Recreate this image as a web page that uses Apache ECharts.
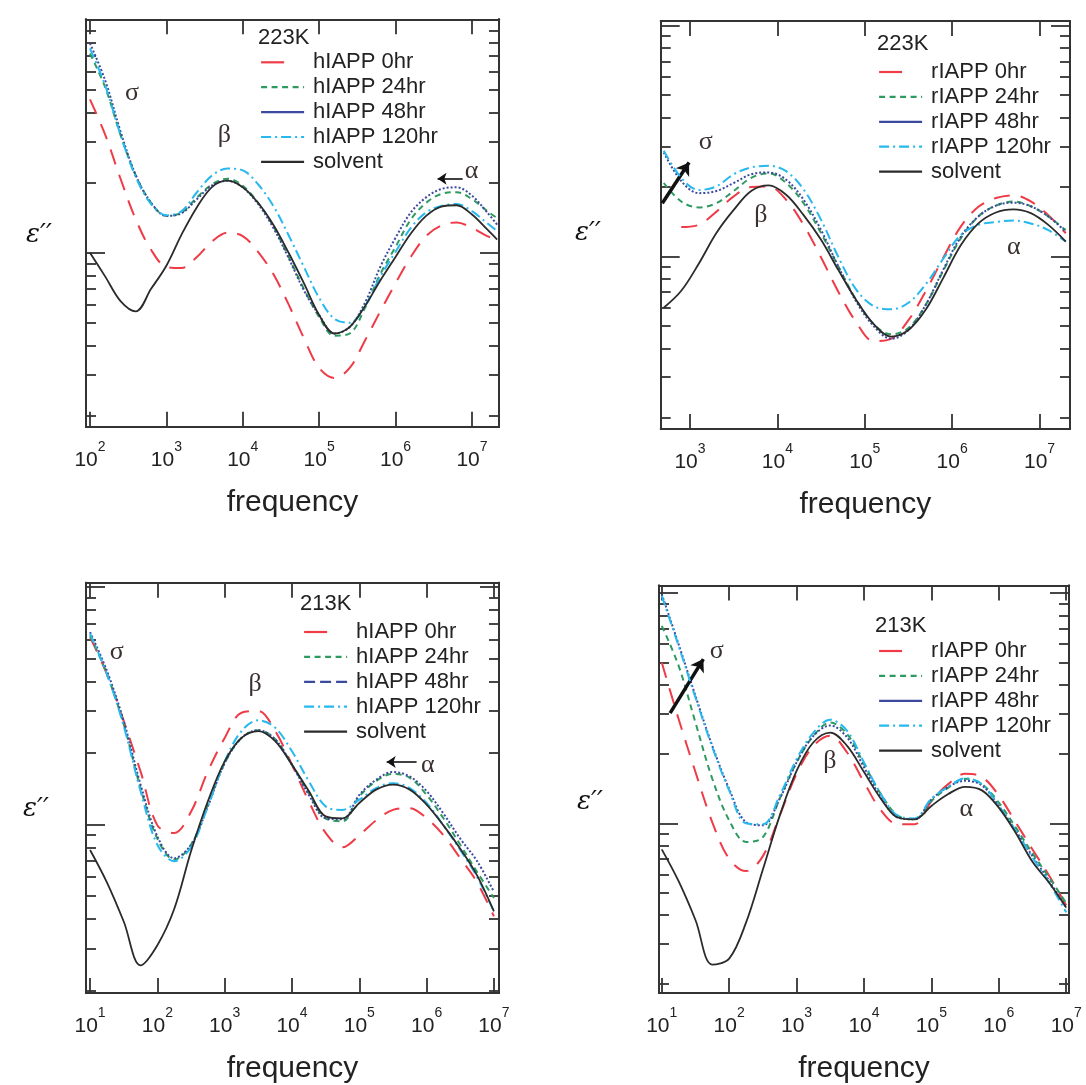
<!DOCTYPE html>
<html><head><meta charset="utf-8">
<script src="https://cdn.jsdelivr.net/npm/echarts@6/dist/echarts.min.js"></script>
<style>html,body{margin:0;padding:0;background:#fff}#c{width:1086px;height:1085px}</style>
</head><body><div id="c"></div>
<script>
// ---------- DATA ----------
// Frequencies (Hz)
const freq1 = [1e2,1.585e2,2.512e2,3.981e2,6.31e2,1e3,1.585e3,2.512e3,3.981e3,6.31e3,1e4,1.585e4,2.512e4,3.981e4,6.31e4,1e5,1.585e5,2.512e5,3.981e5,6.31e5,1e6,1.585e6,2.512e6,3.981e6,6.31e6,1e7,1.585e7,2.138e7];
const freq2 = [501,794,1259,1995,3162,5012,7943,1.259e4,1.995e4,3.162e4,5.012e4,7.943e4,1.259e5,1.995e5,3.162e5,5.012e5,7.943e5,1.259e6,1.995e6,3.162e6,5.012e6,7.943e6,1.259e7,1.995e7];
const freq3 = [10,17.78,31.62,56.23,100,177.8,316.2,562.3,1000,1778,3162,5623,1e4,1.778e4,3.162e4,5.623e4,1e5,1.778e5,3.162e5,5.623e5,1e6,1.778e6,3.162e6,5.623e6,1e7];

// Panel 1: 223K hIAPP
const p1_h0   = [4.56,3.21,2.08,1.39,1.03,0.87,0.86,0.96,1.12,1.22,1.18,1.01,0.81,0.60,0.43,0.32,0.29,0.32,0.42,0.56,0.74,0.96,1.18,1.31,1.35,1.28,1.18,1.14];
const p1_h24  = [7.18,5.13,3.21,2.15,1.64,1.44,1.49,1.73,1.97,2.08,1.94,1.64,1.30,0.96,0.70,0.53,0.44,0.45,0.58,0.81,1.06,1.39,1.64,1.79,1.82,1.70,1.51,1.41];
const p1_h48  = [7.94,5.49,3.32,2.15,1.64,1.44,1.48,1.70,1.95,2.04,1.91,1.62,1.28,0.95,0.69,0.54,0.45,0.48,0.61,0.87,1.16,1.49,1.73,1.88,1.91,1.76,1.49,1.32];
const p1_h120 = [7.55,5.22,3.21,2.11,1.62,1.45,1.51,1.82,2.15,2.30,2.26,1.97,1.59,1.19,0.87,0.64,0.52,0.50,0.59,0.79,1.01,1.28,1.49,1.59,1.62,1.51,1.34,1.24];
const p1_solv = [1.00,0.79,0.62,0.56,0.70,0.88,1.20,1.57,1.92,2.04,1.91,1.64,1.32,1.00,0.74,0.54,0.45,0.48,0.59,0.76,0.96,1.21,1.44,1.58,1.60,1.46,1.26,1.14];

// Panel 2: 223K rIAPP
const p2_r0   = [null,1.34,1.37,1.56,1.82,2.00,2.01,1.76,1.37,0.99,0.70,0.52,0.43,0.44,0.53,0.71,0.99,1.35,1.64,1.79,1.84,1.73,1.51,1.26];
const p2_r24  = [2.08,1.73,1.63,1.70,1.92,2.19,2.29,2.08,1.70,1.26,0.90,0.65,0.51,0.46,0.49,0.62,0.87,1.20,1.49,1.66,1.73,1.65,1.49,1.30];
const p2_r48  = [2.82,2.12,1.88,1.92,2.08,2.27,2.31,2.15,1.76,1.30,0.90,0.64,0.50,0.44,0.48,0.62,0.88,1.22,1.49,1.66,1.71,1.65,1.49,1.28];
const p2_r120 = [2.87,2.19,1.94,2.01,2.27,2.43,2.47,2.34,1.95,1.44,0.99,0.72,0.61,0.59,0.63,0.76,0.98,1.24,1.37,1.41,1.43,1.39,1.30,1.16];
const p2_solv = [0.60,0.71,0.93,1.26,1.59,1.92,2.03,1.85,1.51,1.18,0.87,0.65,0.51,0.45,0.48,0.59,0.81,1.12,1.39,1.55,1.60,1.54,1.37,1.16];

// Panel 3: 213K hIAPP
const p3_h0   = [6.14,4.29,2.72,1.67,0.99,0.92,1.13,1.67,2.31,2.95,3.00,2.47,1.78,1.25,0.92,0.80,0.90,1.04,1.15,1.17,1.06,0.90,0.72,0.57,0.41];
const p3_h24  = [6.24,4.29,2.64,1.42,0.87,0.71,0.82,1.21,1.81,2.31,2.49,2.28,1.78,1.35,1.06,1.03,1.31,1.52,1.63,1.57,1.33,1.06,0.82,0.63,0.49];
const p3_h48  = [6.44,4.43,2.72,1.47,0.89,0.72,0.82,1.19,1.81,2.31,2.49,2.28,1.78,1.33,1.06,1.05,1.33,1.54,1.66,1.59,1.38,1.11,0.87,0.70,0.52];
const p3_h120 = [6.34,4.29,2.59,1.38,0.82,0.70,0.80,1.19,1.84,2.47,2.74,2.55,2.03,1.52,1.19,1.15,1.27,1.42,1.49,1.42,1.23,0.99,0.78,0.60,0.43];
const p3_solv = [0.78,0.57,0.39,0.255,0.31,0.44,0.77,1.25,1.84,2.31,2.47,2.24,1.78,1.38,1.08,1.06,1.23,1.40,1.47,1.40,1.21,0.99,0.79,0.61,0.43];

// Panel 4: 213K rIAPP
const p4_r0   = [5.00,2.84,1.67,1.01,0.70,0.62,0.72,1.08,1.64,2.17,2.40,2.03,1.51,1.14,0.99,0.99,1.25,1.48,1.64,1.59,1.32,1.01,0.77,0.59,0.44];
const p4_r24  = [7.21,4.84,2.74,1.56,1.03,0.83,0.87,1.28,1.84,2.40,2.74,2.44,1.81,1.34,1.08,1.04,1.25,1.43,1.56,1.48,1.23,0.96,0.74,0.58,0.45];
const p4_r48  = [9.90,6.00,3.58,2.17,1.41,1.01,0.98,1.28,1.84,2.40,2.66,2.36,1.75,1.30,1.06,1.04,1.27,1.44,1.53,1.46,1.19,0.93,0.72,0.56,0.43];
const p4_r120 = [9.73,5.90,3.52,2.14,1.39,1.00,0.99,1.32,1.90,2.48,2.82,2.52,1.84,1.34,1.08,1.05,1.28,1.44,1.57,1.48,1.19,0.93,0.71,0.55,0.41];
const p4_solv = [0.77,0.56,0.38,0.243,0.258,0.37,0.63,1.08,1.69,2.25,2.48,2.17,1.67,1.28,1.06,1.04,1.19,1.34,1.44,1.39,1.17,0.91,0.68,0.55,0.43];

// Names / labels
const namesH = ['hIAPP 0hr','hIAPP 24hr','hIAPP 48hr','hIAPP 120hr','solvent'];
const namesR = ['rIAPP 0hr','rIAPP 24hr','rIAPP 48hr','rIAPP 120hr','solvent'];
const temps = ['223K','223K','213K','213K'];
const xTicks1 = [1e2,1e3,1e4,1e5,1e6,1e7];
const xTicks2 = [1e3,1e4,1e5,1e6,1e7];
const xTicks3 = [1e1,1e2,1e3,1e4,1e5,1e6,1e7];
const yMinorTicks = [0.2,0.3,0.4,0.5,0.6,0.7,0.8,0.9,2,3,4,5,6,7,8,9];
const yMajorTicks = [0.1,1,10];

// Annotations [freq, value]
const ann1 = {sigma:[355,4.86], beta:[5750,3.21], alpha:[9.9e6,2.24], arrow:[[7.55e6,2.08],[3.55e6,2.08]]};
const ann2 = {sigma:[1510,3.12], beta:[6460,1.51], alpha:[5.08e6,1.10], arrow:[[482,1.70],[975,2.55]]};
const ann3 = {sigma:[24.9,5.3], beta:[2820,3.89], alpha:[1.04e6,1.77], arrow:[[7.1e5,1.83],[2.55e5,1.83]]};
const ann4 = {sigma:[65.3,5.62], beta:[3120,1.87], alpha:[3.31e5,1.15], arrow:[[13.3,3.01],[41.4,5.17]]};

// ---------- STYLE / LAYOUT ----------
const FONT = '"Liberation Sans", Arial, sans-serif';
const AX = '#333';
const STY = [
  {color:'#ef3b47', type:[16,11], width:2},
  {color:'#2e9a5f', type:[6,4.5], width:2},
  {color:'#3b4a9e', type:[2,2], width:2},
  {color:'#27b8ee', type:[10,4,2,4], width:2},
  {color:'#2b2b2b', type:'solid', width:1.8}
];

const panels = [
  {grid:{left:86,top:19.3,width:413,height:407.4}, x:[88.7,2.26e7], y:[0.179,10.07], xt:xTicks1, f:freq1,
   s:[p1_h0,p1_h24,p1_h48,p1_h120,p1_solv], names:namesH, leg:{left:260,top:51.3}, title:[258,38.5], eps:[39,235],
   ann:ann1, arrowW:1.6, arrowSize:9, legend48:'solid', nameGap:61},
  {grid:{left:660.7,top:21,width:409.3,height:408}, x:[462,2.23e7], y:[0.179,10.46], xt:xTicks2, f:freq2,
   s:[p2_r0,p2_r24,p2_r48,p2_r120,p2_solv], names:namesR, leg:{left:878,top:61}, title:[877,45], eps:[588,233],
   ann:ann2, arrowW:3.5, arrowSize:12, legend48:'solid', nameGap:61},
  {grid:{left:86,top:582.7,width:413,height:410.3}, x:[8.7,1.19e7], y:[0.195,10.4], xt:xTicks3, f:freq3,
   s:[p3_h0,p3_h24,p3_h48,p3_h120,p3_solv], names:namesH, leg:{left:303,top:621}, title:[300,605], eps:[36,809],
   ann:ann3, arrowW:1.6, arrowSize:9, legend48:[11,5], nameGap:61},
  {grid:{left:659,top:585.5,width:410,height:409}, x:[9.1,1.1e7], y:[0.183,10.8], xt:xTicks3, f:freq3,
   s:[p4_r0,p4_r24,p4_r48,p4_r120,p4_solv], names:namesR, leg:{left:878,top:640}, title:[875,627], eps:[590,802],
   ann:ann4, arrowW:3.5, arrowSize:12, legend48:'solid', nameGap:61}
];

const option = {animation:false, backgroundColor:'#fff', grid:[], xAxis:[], yAxis:[], series:[], legend:[], graphic:[]};

function xLab(v){ return '{a|10}{b|' + Math.round(Math.log10(v)) + '}'; }

panels.forEach((p, i) => {
  option.grid.push(Object.assign({containLabel:false}, p.grid));
  const axLine = {show:true, onZero:false, lineStyle:{color:AX, width:2}};
  const baseX = {type:'log', logBase:10, gridIndex:i, min:p.x[0], max:p.x[1], splitLine:{show:false}, minorTick:{show:false}, minorSplitLine:{show:false}, axisLine:axLine};
  option.xAxis.push(Object.assign({}, baseX, {position:'bottom',
    axisTick:{show:true, inside:true, length:15, customValues:p.xt, lineStyle:{color:AX, width:1.8}},
    axisLabel:{show:true, customValues:p.xt, margin:13, formatter:xLab,
      rich:{a:{fontSize:21, fontFamily:FONT, color:'#222', lineHeight:31, verticalAlign:'bottom'},
            b:{fontSize:14, fontFamily:FONT, color:'#222', lineHeight:16, verticalAlign:'top'}}},
    name:'frequency', nameLocation:'middle', nameGap:p.nameGap,
    nameTextStyle:{fontSize:30, fontFamily:FONT, color:'#222'}}));
  option.xAxis.push(Object.assign({}, baseX, {position:'top',
    axisTick:{show:true, inside:true, length:15, customValues:p.xt, lineStyle:{color:AX, width:1.8}},
    axisLabel:{show:false}}));
  const baseY = {type:'log', logBase:10, gridIndex:i, min:p.y[0], max:p.y[1], splitLine:{show:false}, minorTick:{show:false}, axisLabel:{show:false}, axisLine:axLine};
  ['left','right'].forEach(pos => option.yAxis.push(Object.assign({}, baseY, {position:pos,
    axisTick:{show:true, inside:true, length:10, customValues:yMinorTicks, lineStyle:{color:AX, width:1.8}}})));
  ['left','right'].forEach(pos => option.yAxis.push(Object.assign({}, baseY, {position:pos,
    axisTick:{show:true, inside:true, length:19, customValues:yMajorTicks, lineStyle:{color:AX, width:1.8}}})));

  p.s.forEach((vals, k) => {
    const data = [];
    vals.forEach((v, j) => { if (v !== null) data.push([p.f[j], v]); });
    const ser = {type:'line', name:p.names[k], xAxisIndex:2*i, yAxisIndex:4*i, data:data,
      symbol:'none', showSymbol:false, smooth:0.35, color:STY[k].color,
      lineStyle:{color:STY[k].color, type:STY[k].type, width:STY[k].width}, z:2+k, silent:true};
    if (k === 4) {
      const a = p.ann;
      ser.markPoint = {silent:true, symbol:'circle', symbolSize:1, itemStyle:{color:'rgba(0,0,0,0)'},
        label:{show:true, position:'inside', formatter:'{b}', fontSize:26, fontFamily:'"Liberation Serif", serif', color:'#3a3030'},
        data:[{name:'σ', coord:a.sigma},{name:'β', coord:a.beta},{name:'α', coord:a.alpha}]};
      ser.markLine = {silent:true, symbol:['none','arrow'], symbolSize:p.arrowSize, label:{show:false},
        lineStyle:{color:'#111', type:'solid', width:p.arrowW},
        data:[[{coord:a.arrow[0]},{coord:a.arrow[1]}]]};
    }
    option.series.push(ser);
  });

  option.legend.push({orient:'vertical', left:p.leg.left, top:p.leg.top, padding:0, itemGap:2.9,
    itemWidth:43, itemHeight:14, selectedMode:false,
    itemStyle:{opacity:0, borderWidth:0},
    lineStyle:{width:2.2},
    textStyle:{fontSize:22, fontFamily:FONT, color:'#222', lineHeight:22, padding:[0,0,0,4]},
    data:[
      {name:p.names[0], lineStyle:{type:[23,40]}},
      {name:p.names[1]},
      {name:p.names[2], lineStyle:{type:p.legend48}},
      {name:p.names[3]},
      {name:p.names[4]}
    ]});

  option.graphic.push({type:'text', left:p.title[0], top:p.title[1]-12, silent:true,
    style:{text:temps[i], font:'22px ' + FONT, fill:'#222'}});
  option.graphic.push({type:'text', x:p.eps[0], y:p.eps[1], silent:true,
    style:{text:'ε\u2032\u2032', font:'italic 26px "DejaVu Serif", serif', fill:'#111', align:'center', verticalAlign:'middle', textAlign:'center', textVerticalAlign:'middle'}});
});

const chart = echarts.init(document.getElementById('c'), null, {renderer:'canvas'});
chart.setOption(option);
</script></body></html>
